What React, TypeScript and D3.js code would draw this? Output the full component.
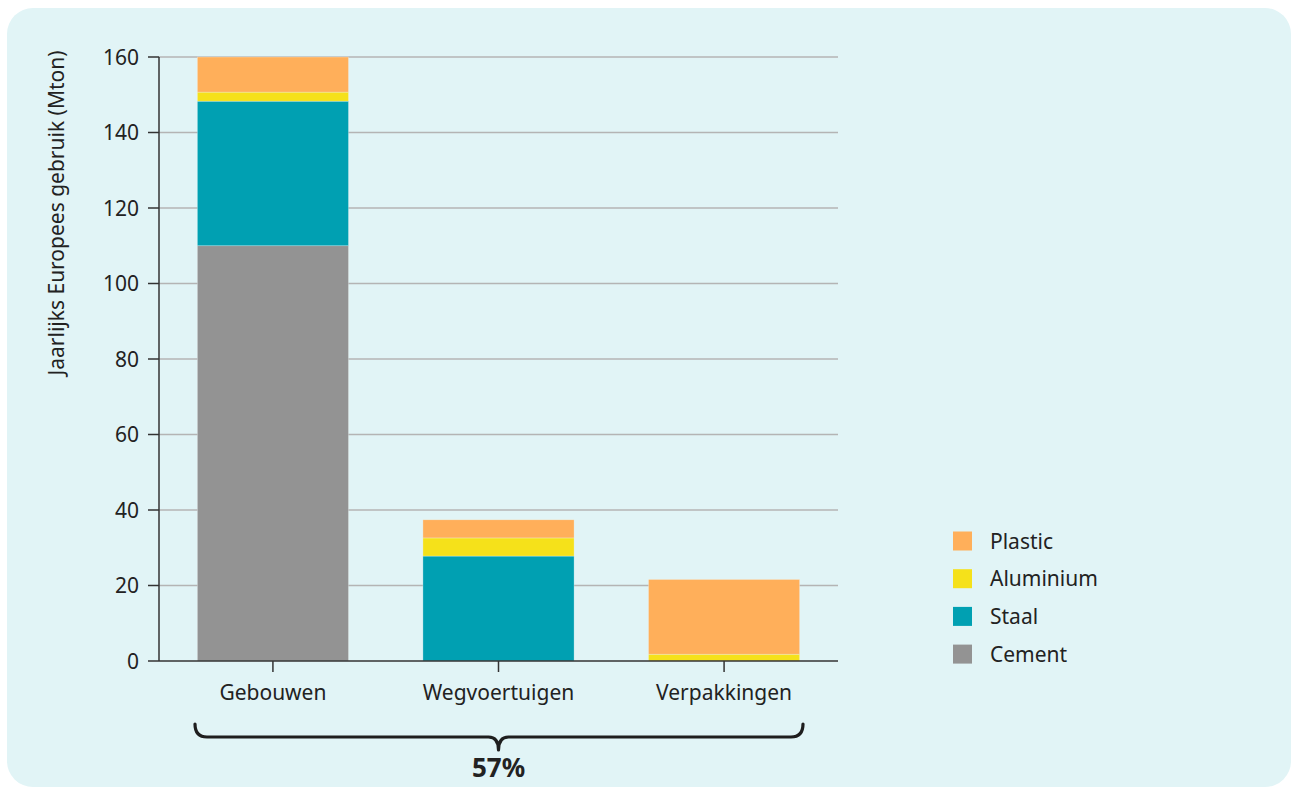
import React from "react";
import * as d3 from "d3";

// Annual European use per sector, in Mton
const categories = ["Gebouwen", "Wegvoertuigen", "Verpakkingen"];
const materials = ["Cement", "Staal", "Aluminium", "Plastic"];
const cement = [110, 0, 0];
const staal = [38.3, 27.8, 0];
const aluminium = [2.4, 4.8, 1.8];
const plastic = [9.3, 4.8, 19.8];
const yTicks = [0, 20, 40, 60, 80, 100, 120, 140, 160];
const legendOrder = ["Plastic", "Aluminium", "Staal", "Cement"];
const shareLabel = "57%";

const colors: Record<string, string> = {
  Cement: "#939393",
  Staal: "#00A0B2",
  Aluminium: "#F5E11A",
  Plastic: "#FFAF5A",
};

const W = 1291;
const H = 787;
const plotLeft = 159;
const plotRight = 838;
const plotTop = 57;
const plotBottom = 661;
const font = "'Noto Sans', 'DejaVu Sans', sans-serif";

export default function App() {
  const rows = categories.map((c, i) => ({
    category: c,
    Cement: cement[i],
    Staal: staal[i],
    Aluminium: aluminium[i],
    Plastic: plastic[i],
  }));
  const stacked = d3.stack<any>().keys(materials)(rows);

  const x = d3
    .scaleBand()
    .domain(categories)
    .range([plotLeft, plotRight])
    .paddingInner(0.33)
    .paddingOuter(0.17);
  const y = d3.scaleLinear().domain([0, 160]).range([plotBottom, plotTop]);

  const bx0 = plotLeft + 36;
  const bx1 = plotRight - 35;
  const mid = (x(categories[1]) ?? 0) + x.bandwidth() / 2;
  const by0 = 724;
  const by1 = 737;
  const by2 = 750;
  const bracePath = [
    `M${bx0},${by0}`,
    `Q${bx0},${by1} ${bx0 + 12},${by1}`,
    `L${mid - 10},${by1}`,
    `Q${mid},${by1} ${mid},${by2}`,
    `Q${mid},${by1} ${mid + 10},${by1}`,
    `L${bx1 - 12},${by1}`,
    `Q${bx1},${by1} ${bx1},${by0}`,
  ].join(" ");

  return (
    <svg
      width={W}
      height={H}
      style={{ position: "absolute", left: 0, top: 0, fontFamily: font }}
    >
      <rect x={7} y={8} width={W - 7} height={H - 8} rx={26} fill="#E1F4F6" />

      {/* gridlines */}
      {yTicks.slice(1).map((t) => (
        <line key={t} x1={plotLeft} x2={plotRight} y1={y(t)} y2={y(t)} stroke="#B4B4B4" strokeWidth={1.3} />
      ))}

      {/* stacked bars */}
      {stacked.map((layer) => (
        <g key={layer.key} fill={colors[layer.key]}>
          {layer.map((d, i) =>
            d[1] - d[0] > 0 ? (
              <rect
                key={i}
                x={x(categories[i])}
                y={y(d[1])}
                width={x.bandwidth()}
                height={y(d[0]) - y(d[1])}
                stroke="#F2F8F8"
                strokeOpacity={0.5}
                strokeWidth={0.6}
              />
            ) : null
          )}
        </g>
      ))}

      {/* y axis */}
      <line x1={plotLeft} x2={plotLeft} y1={plotTop} y2={plotBottom} stroke="#333" strokeWidth={1.5} />
      {yTicks.map((t) => (
        <g key={t}>
          <line x1={plotLeft - 11} x2={plotLeft} y1={y(t)} y2={y(t)} stroke="#333" strokeWidth={1.5} />
          <text x={plotLeft - 20} y={y(t)} dy="0.36em" textAnchor="end" fontSize={21} fill="#222">
            {t}
          </text>
        </g>
      ))}
      <text
        transform={`translate(64,213) rotate(-90)`}
        textAnchor="middle"
        fontSize={21}
        fill="#222"
      >
        Jaarlijks Europees gebruik (Mton)
      </text>

      {/* x axis */}
      <line x1={plotLeft} x2={plotRight} y1={plotBottom} y2={plotBottom} stroke="#333" strokeWidth={1.5} />
      {categories.map((c) => {
        const cx = (x(c) ?? 0) + x.bandwidth() / 2;
        return (
          <g key={c}>
            <line x1={cx} x2={cx} y1={plotBottom} y2={plotBottom + 11} stroke="#333" strokeWidth={1.5} />
            <text x={cx} y={700} textAnchor="middle" fontSize={21} fill="#222">
              {c}
            </text>
          </g>
        );
      })}

      {/* brace with share */}
      <path d={bracePath} fill="none" stroke="#1E1E1E" strokeWidth={3.2} strokeLinecap="round" strokeLinejoin="round" />
      <text x={mid} y={777} textAnchor="middle" fontSize={26} fontWeight="bold" fill="#222">
        {shareLabel}
      </text>

      {/* legend */}
      {legendOrder.map((m, i) => {
        const cy = 541 + i * 37.7;
        return (
          <g key={m}>
            <rect x={953} y={cy - 9.5} width={19} height={19} fill={colors[m]} />
            <text x={990} y={cy} dy="0.36em" fontSize={21} fill="#222">
              {m}
            </text>
          </g>
        );
      })}
    </svg>
  );
}
